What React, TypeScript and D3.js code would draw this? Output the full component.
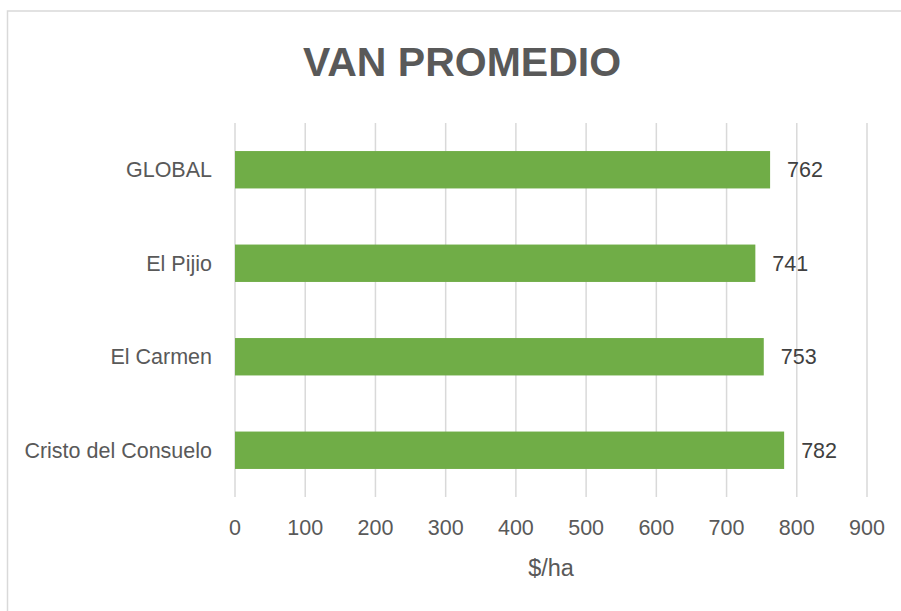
import React from "react";
import * as d3 from "d3";

// data
const categories = ["GLOBAL", "El Pijio", "El Carmen", "Cristo del Consuelo"];
const values = [762, 741, 753, 782];
const xTicks = [0, 100, 200, 300, 400, 500, 600, 700, 800, 900];
const chartTitle = "VAN PROMEDIO";
const xTitle = "$/ha";

const W = 901;
const H = 611;
const margin = { top: 123, right: 34, bottom: 114, left: 235 };
const font = "'Liberation Sans', Arial, sans-serif";

export default function App() {
  const width = W - margin.left - margin.right;
  const height = H - margin.top - margin.bottom;

  const x = d3.scaleLinear().domain([0, 900]).range([0, width]);
  const y = d3.scaleBand().domain(categories).range([0, height]).paddingInner(0.6).paddingOuter(0.3);

  return (
    <svg width={W} height={H} style={{ position: "absolute", left: 0, top: 0, background: "#fff" }}>
      {/* chart border */}
      <rect x={7.5} y={11} width={W + 20} height={H + 20} fill="none" stroke="#d9d9d9" strokeWidth={1.5} />

      <text x={462} y={76} textAnchor="middle" fontFamily={font} fontWeight="bold" fontSize={41} fill="#595959">
        {chartTitle}
      </text>

      <g transform={`translate(${margin.left},${margin.top})`}>
        {/* gridlines */}
        {xTicks.map(t => (
          <line key={t} x1={x(t)} x2={x(t)} y1={0} y2={height} stroke="#d9d9d9" strokeWidth={1.5} />
        ))}

        {/* bars */}
        {categories.map((c, i) => (
          <rect key={c} x={x(0)} y={y(c)} width={x(values[i]) - x(0)} height={y.bandwidth()} fill="#70ad47" />
        ))}

        {/* value labels */}
        {categories.map((c, i) => (
          <text key={c} x={x(values[i]) + 17} y={(y(c) as number) + y.bandwidth() / 2} dy="0.36em"
            fontFamily={font} fontSize={21.5} fill="#404040">
            {values[i]}
          </text>
        ))}

        {/* category labels */}
        {categories.map(c => (
          <text key={c} x={-23} y={(y(c) as number) + y.bandwidth() / 2} dy="0.36em" textAnchor="end"
            fontFamily={font} fontSize={21.5} fill="#595959">
            {c}
          </text>
        ))}

        {/* x tick labels */}
        {xTicks.map(t => (
          <text key={t} x={x(t)} y={height + 38} textAnchor="middle" fontFamily={font} fontSize={21.5} fill="#595959">
            {t}
          </text>
        ))}

        <text x={width / 2} y={height + 79} textAnchor="middle" fontFamily={font} fontSize={23.5} fill="#595959">
          {xTitle}
        </text>
      </g>
    </svg>
  );
}
